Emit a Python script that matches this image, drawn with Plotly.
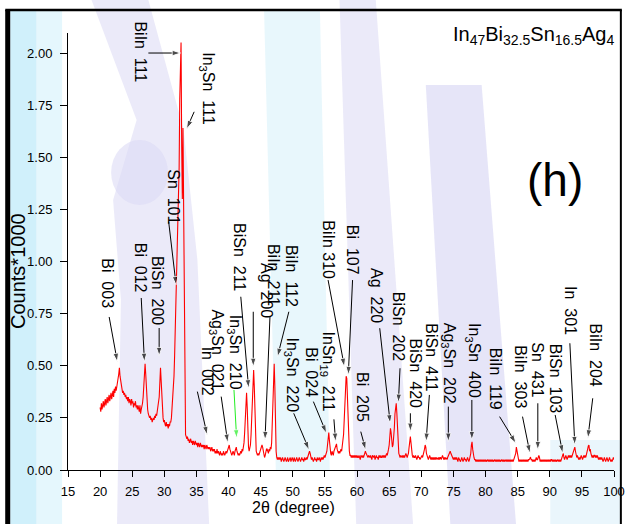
import plotly.graph_objects as go

# ---------------------------------------------------------------- data
scan_start = 20.0   # first 2-theta of the scan (degree)
scan_step = 0.1     # scan step (degree)

# counts (x1000), 10 values per degree
counts_20_34 = [
    0.30, 0.28, 0.32, 0.29, 0.31, 0.33, 0.30, 0.32, 0.34, 0.31,
    0.33, 0.35, 0.32, 0.34, 0.36, 0.33, 0.35, 0.37, 0.34, 0.36,
    0.38, 0.35, 0.39, 0.37, 0.40, 0.38, 0.41, 0.42, 0.44, 0.46,
    0.49, 0.45, 0.42, 0.40, 0.39, 0.37, 0.38, 0.36, 0.37, 0.35,
    0.36, 0.34, 0.35, 0.33, 0.35, 0.32, 0.34, 0.33, 0.31, 0.34,
    0.32, 0.33, 0.30, 0.32, 0.31, 0.33, 0.30, 0.31, 0.29, 0.31,
    0.30, 0.28, 0.31, 0.27, 0.29, 0.30, 0.32, 0.35, 0.40, 0.46,
    0.51, 0.46, 0.38, 0.32, 0.29, 0.27, 0.26, 0.25, 0.26, 0.24,
    0.25, 0.23, 0.24, 0.25, 0.24, 0.26, 0.25, 0.27, 0.26, 0.28,
    0.29, 0.31, 0.35, 0.42, 0.49, 0.43, 0.34, 0.28, 0.25, 0.23,
    0.24, 0.22, 0.21, 0.23, 0.21, 0.22, 0.20, 0.22, 0.21, 0.23,
    0.23, 0.25, 0.29, 0.34, 0.38, 0.45, 0.55, 0.70, 0.85, 0.95,
    1.05, 1.20, 1.28, 1.45, 1.78, 1.95, 2.05, 1.55, 1.30, 1.64,
    1.20, 0.70, 0.30, 0.17, 0.16, 0.15, 0.16, 0.14, 0.15, 0.13,
    0.14, 0.15, 0.13, 0.14, 0.12, 0.14, 0.13, 0.12, 0.14, 0.13,
]
counts_35_64 = [
    0.12, 0.13, 0.11, 0.13, 0.12, 0.11, 0.13, 0.12, 0.11, 0.12,
    0.11, 0.12, 0.10, 0.12, 0.11, 0.10, 0.12, 0.11, 0.10, 0.11,
    0.10, 0.11, 0.09, 0.10, 0.11, 0.09, 0.10, 0.09, 0.10, 0.08,
    0.09, 0.08, 0.10, 0.08, 0.09, 0.08, 0.07, 0.09, 0.08, 0.07,
    0.08, 0.07, 0.09, 0.08, 0.07, 0.08, 0.09, 0.08, 0.09, 0.10,
    0.11, 0.12, 0.10, 0.09, 0.08, 0.07, 0.08, 0.09, 0.08, 0.07,
    0.09, 0.10, 0.11, 0.09, 0.08, 0.07, 0.08, 0.07, 0.08, 0.09,
    0.08, 0.10, 0.09, 0.11, 0.13, 0.18, 0.27, 0.34, 0.37, 0.30,
    0.18, 0.11, 0.09, 0.10, 0.12, 0.17, 0.26, 0.38, 0.46, 0.48,
    0.40, 0.24, 0.13, 0.09, 0.08, 0.07, 0.08, 0.07, 0.08, 0.09,
    0.10, 0.11, 0.12, 0.11, 0.09, 0.07, 0.06, 0.07, 0.09, 0.10,
    0.10, 0.09, 0.08, 0.10, 0.09, 0.11, 0.10, 0.13, 0.22, 0.38,
    0.50, 0.51, 0.40, 0.20, 0.09, 0.06, 0.05, 0.06, 0.05, 0.06,
    0.05, 0.06, 0.04, 0.05, 0.06, 0.05, 0.04, 0.05, 0.06, 0.05,
    0.04, 0.05, 0.06, 0.04, 0.05, 0.05, 0.06, 0.04, 0.05, 0.06,
    0.05, 0.04, 0.06, 0.05, 0.04, 0.05, 0.06, 0.05, 0.04, 0.05,
    0.06, 0.05, 0.04, 0.05, 0.06, 0.05, 0.05, 0.04, 0.06, 0.05,
    0.05, 0.06, 0.05, 0.06, 0.07, 0.08, 0.09, 0.08, 0.06, 0.05,
    0.06, 0.05, 0.04, 0.05, 0.06, 0.05, 0.05, 0.04, 0.06, 0.05,
    0.05, 0.06, 0.05, 0.04, 0.06, 0.05, 0.06, 0.05, 0.06, 0.07,
    0.06, 0.07, 0.07, 0.09, 0.12, 0.16, 0.18, 0.14, 0.10, 0.08,
    0.07, 0.09, 0.08, 0.07, 0.09, 0.10, 0.11, 0.12, 0.125, 0.10,
    0.09, 0.08, 0.09, 0.08, 0.09, 0.10, 0.09, 0.11, 0.13, 0.17,
    0.24, 0.33, 0.42, 0.45, 0.44, 0.36, 0.22, 0.13, 0.09, 0.07,
    0.07, 0.06, 0.07, 0.06, 0.07, 0.06, 0.07, 0.06, 0.07, 0.06,
    0.07, 0.06, 0.06, 0.07, 0.06, 0.05, 0.07, 0.06, 0.06, 0.07,
    0.06, 0.07, 0.08, 0.09, 0.08, 0.07, 0.06, 0.06, 0.07, 0.06,
    0.06, 0.07, 0.06, 0.05, 0.07, 0.06, 0.06, 0.07, 0.05, 0.06,
    0.07, 0.06, 0.06, 0.05, 0.07, 0.06, 0.07, 0.06, 0.06, 0.07,
    0.06, 0.07, 0.06, 0.07, 0.06, 0.07, 0.08, 0.07, 0.08, 0.10,
]
counts_65_100 = [
    0.12, 0.17, 0.20, 0.18, 0.13, 0.11, 0.12, 0.15, 0.20, 0.27,
    0.31, 0.32, 0.27, 0.18, 0.11, 0.08, 0.07, 0.06, 0.07, 0.06,
    0.06, 0.07, 0.06, 0.07, 0.06, 0.07, 0.08, 0.07, 0.06, 0.07,
    0.08, 0.11, 0.15, 0.16, 0.13, 0.09, 0.07, 0.06, 0.07, 0.06,
    0.06, 0.07, 0.06, 0.05, 0.06, 0.07, 0.06, 0.06, 0.05, 0.06,
    0.06, 0.07, 0.06, 0.07, 0.08, 0.10, 0.12, 0.11, 0.08, 0.07,
    0.06, 0.05, 0.06, 0.07, 0.06, 0.05, 0.06, 0.05, 0.06, 0.05,
    0.06, 0.05, 0.06, 0.05, 0.06, 0.05, 0.05, 0.06, 0.05, 0.06,
    0.06, 0.05, 0.06, 0.07, 0.06, 0.05, 0.06, 0.05, 0.06, 0.05,
    0.05, 0.06, 0.07, 0.08, 0.09, 0.09, 0.08, 0.07, 0.06, 0.06,
    0.05, 0.06, 0.05, 0.06, 0.05, 0.06, 0.05, 0.04, 0.06, 0.05,
    0.05, 0.04, 0.05, 0.06, 0.05, 0.04, 0.05, 0.06, 0.05, 0.05,
    0.04, 0.05, 0.06, 0.05, 0.04, 0.05, 0.06, 0.08, 0.12, 0.135,
    0.10, 0.07, 0.06, 0.05, 0.05, 0.04, 0.05, 0.04, 0.05, 0.04,
    0.05, 0.04, 0.05, 0.04, 0.05, 0.04, 0.05, 0.04, 0.05, 0.04,
    0.05, 0.04, 0.05, 0.05, 0.04, 0.05, 0.04, 0.05, 0.04, 0.05,
    0.04, 0.05, 0.04, 0.05, 0.05, 0.04, 0.05, 0.04, 0.05, 0.04,
    0.05, 0.04, 0.05, 0.04, 0.05, 0.05, 0.04, 0.05, 0.04, 0.05,
    0.04, 0.05, 0.05, 0.04, 0.05, 0.04, 0.05, 0.04, 0.05, 0.04,
    0.05, 0.04, 0.05, 0.04, 0.05, 0.05, 0.06, 0.08, 0.11, 0.09,
    0.06, 0.05, 0.04, 0.05, 0.04, 0.05, 0.04, 0.05, 0.04, 0.05,
    0.04, 0.05, 0.04, 0.05, 0.04, 0.05, 0.04, 0.05, 0.05, 0.055,
    0.062, 0.05, 0.05, 0.04, 0.05, 0.04, 0.05, 0.04, 0.05, 0.06,
    0.05, 0.05, 0.06, 0.07, 0.06, 0.04, 0.05, 0.04, 0.05, 0.04,
    0.05, 0.04, 0.05, 0.04, 0.05, 0.04, 0.05, 0.04, 0.05, 0.04,
    0.05, 0.04, 0.05, 0.05, 0.04, 0.05, 0.04, 0.05, 0.04, 0.05,
    0.04, 0.05, 0.05, 0.04, 0.05, 0.04, 0.05, 0.04, 0.05, 0.06,
    0.075, 0.08, 0.06, 0.05, 0.06, 0.07, 0.06, 0.05, 0.06, 0.07,
    0.06, 0.07, 0.06, 0.07, 0.06, 0.07, 0.08, 0.09, 0.10, 0.11,
    0.09, 0.07, 0.06, 0.07, 0.06, 0.05, 0.06, 0.05, 0.06, 0.07,
    0.06, 0.05, 0.06, 0.07, 0.06, 0.07, 0.06, 0.07, 0.08, 0.10,
    0.115, 0.12, 0.09, 0.10, 0.08, 0.07, 0.06, 0.07, 0.06, 0.07,
    0.07, 0.06, 0.07, 0.06, 0.07, 0.06, 0.05, 0.06, 0.05, 0.06,
    0.05, 0.06, 0.05, 0.04, 0.05, 0.06, 0.05, 0.04, 0.05, 0.06,
    0.05, 0.04, 0.05, 0.06, 0.05, 0.04, 0.05, 0.04, 0.05, 0.06,
    0.05,
]
counts = counts_20_34 + counts_35_64 + counts_65_100
two_theta = [round(scan_start + i * scan_step, 1) for i in range(len(counts))]

x_ticks = list(range(15, 101, 5))
y_ticks = [0.0, 0.25, 0.5, 0.75, 1.0, 1.25, 1.5, 1.75, 2.0]

SP = "\u00a0\u00a0"
peak_labels = [
    "BiIn" + SP + "111", "In<sub>3</sub>Sn" + SP + "111", "Sn" + SP + "101",
    "Bi" + SP + "003", "Bi" + SP + "012", "BiSn" + SP + "200",
    "BiSn" + SP + "211", "BiIn" + SP + "211", "Ag" + SP + "200",
    "In<sub>3</sub>Sn" + SP + "210", "Ag<sub>3</sub>Sn" + SP + "021", "In" + SP + "002",
    "BiIn" + SP + "112", "In<sub>3</sub>Sn" + SP + "220", "Bi" + SP + "024",
    "InSn<sub>19</sub>" + SP + "211", "BiIn 310", "Bi" + SP + "107",
    "Bi" + SP + "205", "Ag" + SP + "220", "BiSn" + SP + "202",
    "BiSn" + SP + "420", "BiSn" + SP + "411", "Ag<sub>3</sub>Sn" + SP + "202",
    "In<sub>3</sub>Sn" + SP + "400", "BiIn" + SP + "119", "BiIn" + SP + "303",
    "Sn" + SP + "431", "BiSn" + SP + "103", "In" + SP + "301",
    "BiIn" + SP + "204",
]

# ---------------------------------------------------------------- layout
W, H = 636, 524
ML, MR, MT, MB = 68, 11, 33, 54
X_RANGE = [15, 100]
Y_RANGE = [0, 2.096]
FONT = "Liberation Sans, Arial, sans-serif"

# label centres (2theta, counts) - text runs downward
label_pos = [
    (26.14, 2.005), (36.67, 1.83), (31.48, 1.309),
    (21.03, 0.897), (26.25, 0.969), (29.04, 0.863),
    (41.60, 1.022), (47.09, 0.935), (45.98, 0.863),
    (40.87, 0.566), (38.12, 0.576), (36.72, 0.474),
    (49.90, 0.930), (49.79, 0.456), (52.95, 0.470),
    (55.36, 0.471), (55.59, 1.055), (59.41, 1.055),
    (60.93, 0.350), (62.92, 0.835), (66.43, 0.690),
    (69.10, 0.465), (71.62, 0.542), (74.36, 0.513),
    (78.03, 0.523), (81.69, 0.436), (85.50, 0.446),
    (88.10, 0.480), (91.00, 0.441), (93.13, 0.763),
    (97.10, 0.552),
]

# arrows: tail (2theta, counts) -> head (2theta, counts), colour
arrows = [
    (27.51, 2.000, 32.55, 2.000, "black"),
    (34.64, 1.718, 33.46, 1.636, "black"),
    (30.67, 1.191, 31.83, 0.887, "black"),
    (21.41, 0.734, 22.68, 0.519, "black"),
    (26.40, 0.825, 26.90, 0.519, "black"),
    (29.19, 0.681, 29.19, 0.547, "black"),
    (41.90, 0.831, 43.12, 0.392, "black"),
    (43.84, 0.759, 43.84, 0.495, "black"),
    (46.44, 0.735, 45.67, 0.144, "black"),
    (40.84, 0.384, 41.25, 0.152, "#22ee22"),
    (38.85, 0.352, 39.87, 0.131, "black"),
    (35.14, 0.376, 36.67, 0.168, "black"),
    (49.38, 0.759, 47.61, 0.543, "black"),
    (50.14, 0.272, 52.54, 0.096, "black"),
    (53.20, 0.328, 55.24, 0.176, "black"),
    (56.40, 0.243, 56.66, 0.136, "black"),
    (55.49, 0.911, 58.03, 0.495, "black"),
    (59.30, 0.911, 58.64, 0.456, "black"),
    (60.58, 0.184, 61.35, 0.096, "black"),
    (63.53, 0.680, 65.16, 0.224, "black"),
    (66.69, 0.488, 66.43, 0.323, "black"),
    (68.30, 0.272, 68.30, 0.184, "black"),
    (71.26, 0.360, 70.75, 0.136, "black"),
    (74.21, 0.304, 74.21, 0.136, "black"),
    (77.87, 0.336, 77.87, 0.144, "black"),
    (82.19, 0.256, 84.74, 0.128, "black"),
    (85.76, 0.256, 86.92, 0.080, "black"),
    (88.14, 0.320, 88.14, 0.096, "black"),
    (90.84, 0.264, 92.02, 0.080, "black"),
    (93.13, 0.608, 93.90, 0.120, "black"),
    (96.69, 0.344, 95.93, 0.152, "black"),
]


def pxx(p):
    return (p - ML) / (W - ML - MR)


def pxy(p):
    return (H - MB - p) / (H - MT - MB)


def poly(points):
    return "M " + " L ".join(f"{pxx(a):.4f},{pxy(b):.4f}" for a, b in points) + " Z"


fig = go.Figure()
fig.add_trace(go.Scatter(
    x=two_theta, y=counts, mode="lines",
    line=dict(color="#ff0000", width=1.1),
    hoverinfo="skip", showlegend=False,
))

# pointer arrows: a line with an arrow marker at its head
for (tx, ty, hx, hy, col) in arrows:
    fig.add_trace(go.Scatter(
        x=[tx, hx], y=[ty, hy], mode="lines+markers",
        line=dict(color=col, width=1),
        marker=dict(symbol="arrow", size=[0, 9], angleref="previous", color=col),
        hoverinfo="skip", showlegend=False,
    ))

shapes = []
# soft background artwork
bg = [
    ([(9, 10), (36, 10), (36, 524), (9, 524)], "rgba(196,236,250,0.8)"),
    ([(36, 10), (62, 10), (62, 524), (36, 524)], "rgba(218,244,252,0.7)"),
    ([(92, 0), (150, 0), (186, 130), (200, 260), (212, 524), (118, 524),
      (122, 300), (114, 200), (138, 120)], "rgba(222,220,245,0.6)"),
    ([(268, 10), (325, 10), (335, 470), (280, 470)], "rgba(214,240,250,0.55)"),
    ([(345, 0), (382, 0), (420, 524), (362, 524)], "rgba(224,222,246,0.65)"),
    ([(433, 85), (490, 85), (525, 524), (458, 524)], "rgba(220,218,245,0.7)"),
    ([(560, 440), (632, 440), (632, 524), (560, 524)], "rgba(220,240,250,0.6)"),
]
for pts, col in bg:
    shapes.append(dict(type="path", path=poly(pts), xref="paper", yref="paper",
                       fillcolor=col, line=dict(width=0), layer="below"))
shapes.append(dict(type="circle", xref="paper", yref="paper",
                   x0=pxx(112), x1=pxx(170), y0=pxy(205), y1=pxy(140),
                   fillcolor="rgba(220,218,245,0.6)", line=dict(width=0), layer="below"))

# outer frame
for x0, y0, x1, y1, w in [(4, 10, 633, 10, 2.5), (6.5, 10, 6.5, 524, 5), (632, 10, 632, 524, 2)]:
    shapes.append(dict(type="line", xref="paper", yref="paper",
                       x0=pxx(x0), y0=pxy(y0), x1=pxx(x1), y1=pxy(y1),
                       line=dict(color="black", width=w), layer="above"))

annotations = []
for text, (lx, ly) in zip(peak_labels, label_pos):
    annotations.append(dict(
        x=lx, y=ly, xref="x", yref="y", text=text, showarrow=False,
        textangle=90, xanchor="center", yanchor="middle",
        font=dict(family=FONT, size=16, color="black"),
    ))
annotations.append(dict(
    x=pxx(628), y=pxy(35.5), xref="paper", yref="paper",
    text="In<sub>47</sub>Bi<sub>32.5</sub>Sn<sub>16.5</sub>Ag<sub>4</sub>",
    showarrow=False, xanchor="right", yanchor="middle",
    font=dict(family=FONT, size=20, color="black"),
))
annotations.append(dict(
    x=pxx(565), y=pxy(180), xref="paper", yref="paper", text="(h)",
    showarrow=False, xanchor="center", yanchor="middle",
    font=dict(family=FONT, size=46, color="black"),
))
# axis titles
annotations.append(dict(
    x=pxx(298), y=pxy(507), xref="paper", yref="paper", text="2θ (degree)",
    showarrow=False, xanchor="center", yanchor="middle",
    font=dict(family=FONT, size=16, color="black"),
))
annotations.append(dict(
    x=pxx(17), y=pxy(271), xref="paper", yref="paper", text="Counts*1000",
    showarrow=False, xanchor="center", yanchor="middle", textangle=-90,
    font=dict(family=FONT, size=20, color="black"),
))

axis_common = dict(
    showline=True, linecolor="black", linewidth=1, ticks="outside",
    tickwidth=1, tickcolor="black", showgrid=False, zeroline=False,
    tickfont=dict(family=FONT, size=13, color="black"),
)
fig.update_layout(
    width=W, height=H, margin=dict(l=ML, r=MR, t=MT, b=MB),
    paper_bgcolor="white", plot_bgcolor="rgba(0,0,0,0)",
    shapes=shapes, annotations=annotations, showlegend=False,
    xaxis=dict(range=X_RANGE, tickvals=x_ticks, ticklen=6, ticklabelstandoff=3,
               **axis_common),
    yaxis=dict(range=Y_RANGE, tickvals=y_ticks, tickformat=".2f", ticklen=7,
               ticklabelstandoff=5, **axis_common),
)

fig.write_html("out.html")
